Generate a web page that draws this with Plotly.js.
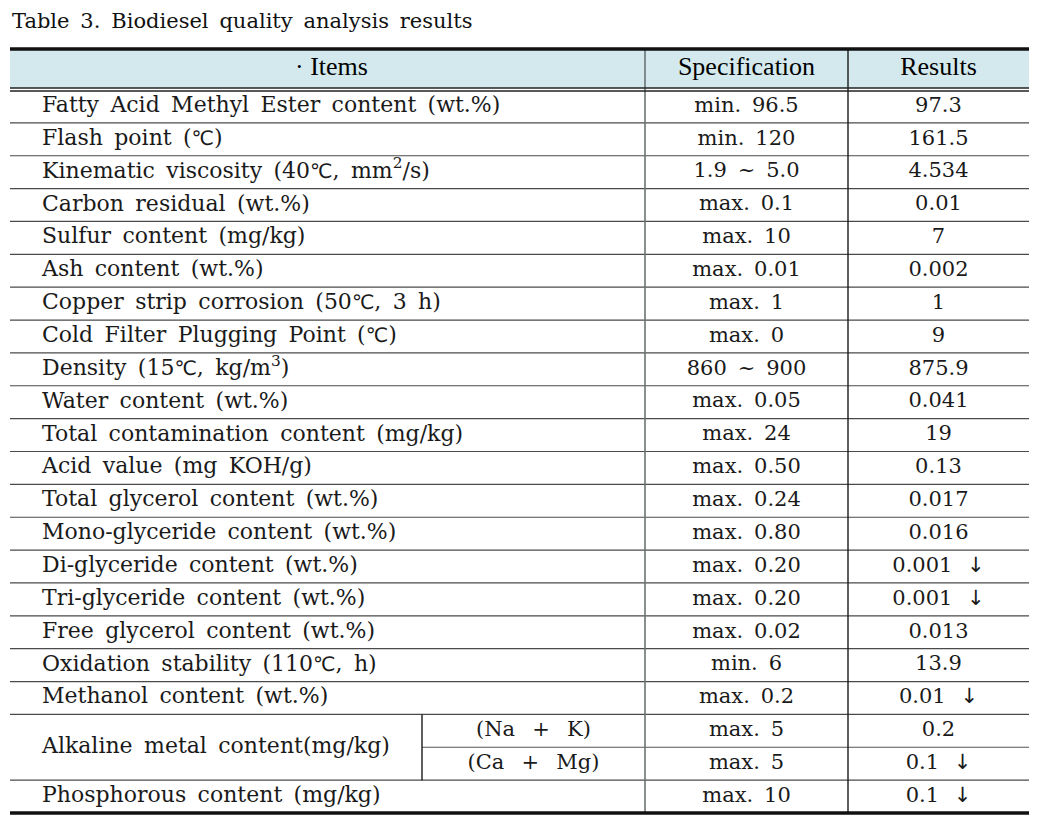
<!DOCTYPE html>
<html>
<head>
<meta charset="utf-8">
<script src="https://cdn.plot.ly/plotly-3.0.1.min.js"></script>
<style>html,body{margin:0;padding:0;background:#fff;}#chart{width:1049px;height:818px;}</style>
</head>
<body>
<div id="chart"></div>
<script>
// ---- data ----
const titleText = "Table 3. Biodiesel quality analysis results";
const headers = ["· Items", "Specification", "Results"];
const items = [
  "Fatty Acid Methyl Ester content (wt.%)",
  "Flash point (℃)",
  "Kinematic viscosity (40℃, mm<sup>2</sup>/s)",
  "Carbon residual (wt.%)",
  "Sulfur content (mg/kg)",
  "Ash content (wt.%)",
  "Copper strip corrosion (50℃, 3 h)",
  "Cold Filter Plugging Point (℃)",
  "Density (15℃, kg/m<sup>3</sup>)",
  "Water content (wt.%)",
  "Total contamination content (mg/kg)",
  "Acid value (mg KOH/g)",
  "Total glycerol content (wt.%)",
  "Mono-glyceride content (wt.%)",
  "Di-glyceride content (wt.%)",
  "Tri-glyceride content (wt.%)",
  "Free glycerol content (wt.%)",
  "Oxidation stability (110℃, h)",
  "Methanol content (wt.%)",
  "Alkaline metal content(mg/kg)",
  "",
  "Phosphorous content (mg/kg)"
];
const itemSpans = [1,1,1,1,1,1,1,1,1,1,1,1,1,1,1,1,1,1,1,2,0,1];
const subItems = ["","","","","","","","","","","","","","","","","","","","(Na + K)","(Ca + Mg)",""];
const specs = ["min. 96.5","min. 120","1.9 ~ 5.0","max. 0.1","max. 10","max. 0.01","max. 1","max. 0",
  "860 ~ 900","max. 0.05","max. 24","max. 0.50","max. 0.24","max. 0.80","max. 0.20","max. 0.20",
  "max. 0.02","min. 6","max. 0.2","max. 5","max. 5","max. 10"];
const results = ["97.3","161.5","4.534","0.01","7","0.002","1","9","875.9","0.041","19","0.13",
  "0.017","0.016","0.001 ↓","0.001 ↓","0.013","13.9","0.01 ↓","0.2","0.1 ↓","0.1 ↓"];

// ---- geometry / style ----
const W = 1049, H = 818;
const xL = 10, xC1 = 645, xC2 = 848, xR = 1029, xSub = 422;
const yTop = 49, yHead = 88, yHead2 = 91, yBot = 813;
const nRows = specs.length;
const rowH = (yBot - 90) / nRows;
const rowTop = i => 90 + i * rowH;
const serif = "'DejaVu Serif', 'Liberation Serif', serif";
const headSerif = "'Liberation Serif', serif";
const txtColor = "#1a1a1a";
const wide = s => s.replace(/ /g, "\u00a0\u2009")
  .replace(/℃/g, "<span style='font-family:DejaVu Sans;font-size:20px'>℃</span>");
const wider = s => s.replace(/ /g, "\u00a0\u2002");
const arrow = s => s.replace(" ↓", "\u2002\u2009<span style='font-family:DejaVu Sans'>↓</span>");

const itemX = [], itemY = [], itemT = [];
items.forEach((t, i) => {
  if (itemSpans[i] > 0) {
    itemX.push(42);
    itemY.push(rowTop(i) + itemSpans[i] * rowH / 2);
    itemT.push(wide(t));
  }
});
const subX = [], subY = [], subT = [];
subItems.forEach((t, i) => { if (t) { subX.push((xSub + xC1) / 2); subY.push(rowTop(i) + rowH / 2); subT.push(wider(t)); } });
const rowMid = specs.map((_, i) => rowTop(i) + rowH / 2);

const font = {family: serif, size: 21, color: txtColor};
const itemFont = {family: serif, size: 22, color: txtColor};
const traces = [
  {type: "scatter", mode: "text", x: [(xL + xC1) / 2 + 4, (xC1 + xC2) / 2, (xC2 + xR) / 2],
   y: headers.map(() => (yTop + yHead) / 2), text: headers, textposition: "middle center",
   textfont: {family: headSerif, size: 26, color: "#000"}, hoverinfo: "skip"},
  {type: "scatter", mode: "text", x: itemX, y: itemY, text: itemT, textposition: "middle right",
   textfont: itemFont, hoverinfo: "skip"},
  {type: "scatter", mode: "text", x: subX, y: subY, text: subT, textposition: "middle center",
   textfont: font, hoverinfo: "skip"},
  {type: "scatter", mode: "text", x: specs.map(() => (xC1 + xC2) / 2), y: rowMid, text: specs.map(wide),
   textposition: "middle center", textfont: font, hoverinfo: "skip"},
  {type: "scatter", mode: "text", x: results.map(() => (xC2 + xR) / 2), y: rowMid,
   text: results.map(arrow), textposition: "middle center", textfont: font, hoverinfo: "skip"}
];

const shapes = [];
const line = (x0, y0, x1, y1, color, width) => shapes.push({type: "line", xref: "x", yref: "y",
  x0, y0, x1, y1, line: {color, width}, layer: "above"});
// header fill
shapes.push({type: "rect", xref: "x", yref: "y", x0: xL, x1: xR, y0: yTop, y1: yHead,
  fillcolor: "#d3e9ed", line: {width: 0}, layer: "below"});
// row lines
for (let i = 1; i < nRows; i++) {
  const y = rowTop(i);
  if (itemSpans[i] === 0) line(xSub, y, xR, y, "#555", 1.2);
  else line(xL, y, xR, y, "#4a4a4a", 1.2);
}
// verticals
line(xC1, yTop, xC1, yBot, "#6a7474", 1.6);
line(xC2, yTop, xC2, yBot, "#1a1a1a", 1.4);
const spanIdx = itemSpans.indexOf(2);
line(xSub, rowTop(spanIdx), xSub, rowTop(spanIdx + 2), "#1a1a1a", 1.4);
// borders
line(xL, yTop, xR, yTop, "#111", 3.5);
line(xL, yHead, xR, yHead, "#222", 1.6);
line(xL, yHead2, xR, yHead2, "#222", 1.6);
line(xL, yBot, xR, yBot, "#111", 3.5);

const layout = {
  width: W, height: H, margin: {l: 0, r: 0, t: 0, b: 0},
  paper_bgcolor: "#fff", plot_bgcolor: "#fff", showlegend: false,
  title: {text: titleText.replace(/ /g, "\u00a0\u2009"), x: 12 / W, xanchor: "left", xref: "paper",
    y: 1 - 21 / H, yanchor: "middle", font: {family: serif, size: 21, color: "#111"}},
  xaxis: {range: [0, W], visible: false, fixedrange: true},
  yaxis: {range: [H, 0], visible: false, fixedrange: true},
  shapes
};
Plotly.newPlot("chart", traces, layout, {staticPlot: true, displayModeBar: false});
</script>
</body>
</html>
